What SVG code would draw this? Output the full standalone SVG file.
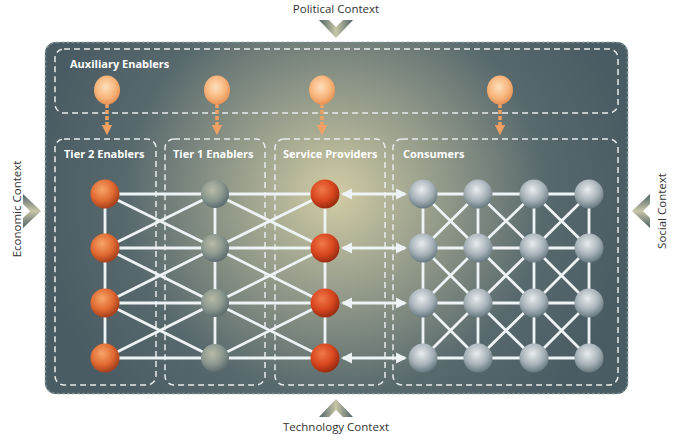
<svg xmlns="http://www.w3.org/2000/svg" width="688" height="440" viewBox="0 0 688 440">
<style>
.lbl{font-family:"Open Sans","Liberation Sans",sans-serif;font-weight:bold;font-size:11px;fill:#ffffff}
.ctx{font-family:"Open Sans","Liberation Sans",sans-serif;font-size:11.5px;fill:#333333}
.dash{fill:none;stroke:#e6ecec;stroke-width:1.5;stroke-dasharray:6 4}
.link{stroke:#eef3f5;stroke-width:2.8;fill:none}
.aux{stroke:#f0a062;stroke-width:3.5;fill:none;stroke-dasharray:4 2}
.dbl{stroke:#eef3f5;stroke-width:2.8;fill:none;marker-start:url(#ahL);marker-end:url(#ahR)}
</style>
<defs>
<radialGradient id="bg" gradientUnits="userSpaceOnUse" cx="335" cy="195" r="300" gradientTransform="translate(335 195) scale(1 0.95) translate(-335 -195)">
<stop offset="0" stop-color="#d2cca4"/>
<stop offset="0.3" stop-color="#9ca28e"/>
<stop offset="0.7" stop-color="#58696d"/>
<stop offset="1" stop-color="#4a5c63"/>
</radialGradient>
<radialGradient id="gOr" cx="0.4" cy="0.35" r="0.65">
<stop offset="0" stop-color="#f7a66a"/>
<stop offset="0.6" stop-color="#e06a32"/>
<stop offset="1" stop-color="#a8401c"/>
</radialGradient>
<radialGradient id="gRed" cx="0.4" cy="0.35" r="0.65">
<stop offset="0" stop-color="#f07a4a"/>
<stop offset="0.6" stop-color="#d8461e"/>
<stop offset="1" stop-color="#9a2c12"/>
</radialGradient>
<radialGradient id="gT1" cx="0.4" cy="0.35" r="0.65">
<stop offset="0" stop-color="#b8bba6"/>
<stop offset="0.6" stop-color="#8a978f"/>
<stop offset="1" stop-color="#5e6e70"/>
</radialGradient>
<radialGradient id="gCon" cx="0.45" cy="0.35" r="0.65">
<stop offset="0" stop-color="#e8ecee"/>
<stop offset="0.6" stop-color="#a6b2b8"/>
<stop offset="1" stop-color="#66787e"/>
</radialGradient>
<radialGradient id="gAux" cx="0.45" cy="0.4" r="0.65">
<stop offset="0" stop-color="#fde0bc"/>
<stop offset="0.6" stop-color="#f7b47a"/>
<stop offset="1" stop-color="#e58a4c"/>
</radialGradient>
<linearGradient id="gChev" x1="0" y1="0" x2="1" y2="0">
<stop offset="0" stop-color="#4e6268"/>
<stop offset="0.5" stop-color="#c8c6a6"/>
<stop offset="1" stop-color="#4e6268"/>
</linearGradient>
<marker id="ahR" viewBox="0 0 10 10" refX="8" refY="5" markerWidth="4" markerHeight="4" orient="auto" markerUnits="strokeWidth">
<path d="M0,0 L10,5 L0,10 z" fill="#eef3f5"/>
</marker>
<marker id="ahL" viewBox="0 0 10 10" refX="2" refY="5" markerWidth="4" markerHeight="4" orient="auto" markerUnits="strokeWidth">
<path d="M10,0 L0,5 L10,10 z" fill="#eef3f5"/>
</marker>
<marker id="ahO" viewBox="0 0 10 10" refX="5" refY="5" markerWidth="3" markerHeight="3" orient="auto" markerUnits="strokeWidth">
<path d="M0,0 L10,5 L0,10 z" fill="#f0a062"/>
</marker>
<polygon id="chev" points="-17,-9 -7,-9 0,-2 7,-9 17,-9 0,9" fill="url(#gChev)"/>
</defs>

<rect width="688" height="440" fill="#ffffff"/>

<g id="frame">
<rect x="45" y="42" width="583" height="352" rx="11" fill="url(#bg)"/>
<rect x="45.5" y="42.5" width="582" height="351" rx="11" fill="none" stroke="#7a8c90" stroke-width="1.5" stroke-dasharray="3 2"/>
</g>

<g id="auxiliary-enablers">
<rect class="dash" x="55" y="49" width="563" height="64" rx="9"/>
<text class="lbl" x="70" y="68">Auxiliary Enablers</text>
</g>
<g id="tier2-enablers">
<rect class="dash" x="55" y="139" width="101" height="246" rx="9"/>
<text class="lbl" x="64" y="158">Tier 2 Enablers</text>
</g>
<g id="tier1-enablers">
<rect class="dash" x="165" y="139" width="100" height="246" rx="9"/>
<text class="lbl" x="173" y="158">Tier 1 Enablers</text>
</g>
<g id="service-providers">
<rect class="dash" x="275" y="139" width="110" height="246" rx="9"/>
<text class="lbl" x="283" y="158">Service Providers</text>
</g>
<g id="consumers">
<rect class="dash" x="393" y="139" width="225" height="246" rx="9"/>
<text class="lbl" x="403" y="158">Consumers</text>
</g>

<g id="connectors">
<line class="aux" x1="107" y1="104" x2="107" y2="130" marker-end="url(#ahO)"/>
<line class="aux" x1="217" y1="104" x2="217" y2="130" marker-end="url(#ahO)"/>
<line class="aux" x1="322" y1="104" x2="322" y2="130" marker-end="url(#ahO)"/>
<line class="aux" x1="500" y1="104" x2="500" y2="130" marker-end="url(#ahO)"/>
<line class="link" x1="105" y1="194" x2="105" y2="358"/>
<line class="link" x1="215" y1="194" x2="215" y2="358"/>
<line class="link" x1="325" y1="194" x2="325" y2="358"/>
<line class="link" x1="105" y1="194" x2="215" y2="194"/>
<line class="link" x1="105" y1="248" x2="215" y2="248"/>
<line class="link" x1="105" y1="303" x2="215" y2="303"/>
<line class="link" x1="105" y1="358" x2="215" y2="358"/>
<line class="link" x1="105" y1="194" x2="215" y2="248"/>
<line class="link" x1="105" y1="248" x2="215" y2="194"/>
<line class="link" x1="105" y1="248" x2="215" y2="303"/>
<line class="link" x1="105" y1="303" x2="215" y2="248"/>
<line class="link" x1="105" y1="303" x2="215" y2="358"/>
<line class="link" x1="105" y1="358" x2="215" y2="303"/>
<line class="link" x1="215" y1="194" x2="325" y2="194"/>
<line class="link" x1="215" y1="248" x2="325" y2="248"/>
<line class="link" x1="215" y1="303" x2="325" y2="303"/>
<line class="link" x1="215" y1="358" x2="325" y2="358"/>
<line class="link" x1="215" y1="194" x2="325" y2="248"/>
<line class="link" x1="215" y1="248" x2="325" y2="194"/>
<line class="link" x1="215" y1="248" x2="325" y2="303"/>
<line class="link" x1="215" y1="303" x2="325" y2="248"/>
<line class="link" x1="215" y1="303" x2="325" y2="358"/>
<line class="link" x1="215" y1="358" x2="325" y2="303"/>
<line class="dbl" x1="343" y1="194" x2="405" y2="194"/>
<line class="dbl" x1="343" y1="248" x2="405" y2="248"/>
<line class="dbl" x1="343" y1="303" x2="405" y2="303"/>
<line class="dbl" x1="343" y1="358" x2="405" y2="358"/>
<line class="link" x1="423" y1="194" x2="589" y2="194"/>
<line class="link" x1="423" y1="248" x2="589" y2="248"/>
<line class="link" x1="423" y1="303" x2="589" y2="303"/>
<line class="link" x1="423" y1="358" x2="589" y2="358"/>
<line class="link" x1="423" y1="194" x2="423" y2="358"/>
<line class="link" x1="478" y1="194" x2="478" y2="358"/>
<line class="link" x1="534" y1="194" x2="534" y2="358"/>
<line class="link" x1="589" y1="194" x2="589" y2="358"/>
<path class="link" d="M423,194 L478,248 M478,194 L423,248 M478,194 L534,248 M534,194 L478,248 M534,194 L589,248 M589,194 L534,248
M423,248 L478,303 M478,248 L423,303 M478,248 L534,303 M534,248 L478,303 M534,248 L589,303 M589,248 L534,303
M423,303 L478,358 M478,303 L423,358 M478,303 L534,358 M534,303 L478,358 M534,303 L589,358 M589,303 L534,358"/>
</g>

<g id="aux-nodes">
<ellipse cx="107" cy="90" rx="13" ry="14.5" fill="url(#gAux)"/>
<ellipse cx="217" cy="90" rx="13" ry="14.5" fill="url(#gAux)"/>
<ellipse cx="322" cy="90" rx="13" ry="14.5" fill="url(#gAux)"/>
<ellipse cx="500" cy="90" rx="13" ry="14.5" fill="url(#gAux)"/>
</g>
<g id="tier2-nodes">
<circle cx="105" cy="194" r="14.5" fill="url(#gOr)"/>
<circle cx="105" cy="248" r="14.5" fill="url(#gOr)"/>
<circle cx="105" cy="303" r="14.5" fill="url(#gOr)"/>
<circle cx="105" cy="358" r="14.5" fill="url(#gOr)"/>
</g>
<g id="tier1-nodes">
<circle cx="215" cy="194" r="14" fill="url(#gT1)"/>
<circle cx="215" cy="248" r="14" fill="url(#gT1)"/>
<circle cx="215" cy="303" r="14" fill="url(#gT1)"/>
<circle cx="215" cy="358" r="14" fill="url(#gT1)"/>
</g>
<g id="sp-nodes">
<circle cx="325" cy="194" r="14.5" fill="url(#gRed)"/>
<circle cx="325" cy="248" r="14.5" fill="url(#gRed)"/>
<circle cx="325" cy="303" r="14.5" fill="url(#gRed)"/>
<circle cx="325" cy="358" r="14.5" fill="url(#gRed)"/>
</g>
<g id="consumer-nodes">
<circle cx="423" cy="194" r="14.5" fill="url(#gCon)"/>
<circle cx="478" cy="194" r="14.5" fill="url(#gCon)"/>
<circle cx="534" cy="194" r="14.5" fill="url(#gCon)"/>
<circle cx="589" cy="194" r="14.5" fill="url(#gCon)"/>
<circle cx="423" cy="248" r="14.5" fill="url(#gCon)"/>
<circle cx="478" cy="248" r="14.5" fill="url(#gCon)"/>
<circle cx="534" cy="248" r="14.5" fill="url(#gCon)"/>
<circle cx="589" cy="248" r="14.5" fill="url(#gCon)"/>
<circle cx="423" cy="303" r="14.5" fill="url(#gCon)"/>
<circle cx="478" cy="303" r="14.5" fill="url(#gCon)"/>
<circle cx="534" cy="303" r="14.5" fill="url(#gCon)"/>
<circle cx="589" cy="303" r="14.5" fill="url(#gCon)"/>
<circle cx="423" cy="358" r="14.5" fill="url(#gCon)"/>
<circle cx="478" cy="358" r="14.5" fill="url(#gCon)"/>
<circle cx="534" cy="358" r="14.5" fill="url(#gCon)"/>
<circle cx="589" cy="358" r="14.5" fill="url(#gCon)"/>
</g>

<g id="political-context">
<text class="ctx" x="336" y="13" text-anchor="middle">Political Context</text>
<use href="#chev" transform="translate(336 29)"/>
</g>
<g id="technology-context">
<use href="#chev" transform="translate(336 408) rotate(180)"/>
<text class="ctx" x="336" y="431" text-anchor="middle">Technology Context</text>
</g>
<g id="economic-context">
<text class="ctx" transform="translate(21 209) rotate(-90)" text-anchor="middle">Economic Context</text>
<use href="#chev" transform="translate(32 211) rotate(-90)"/>
</g>
<g id="social-context">
<use href="#chev" transform="translate(641 211) rotate(90)"/>
<text class="ctx" transform="translate(666 211) rotate(-90)" text-anchor="middle">Social Context</text>
</g>
</svg>
